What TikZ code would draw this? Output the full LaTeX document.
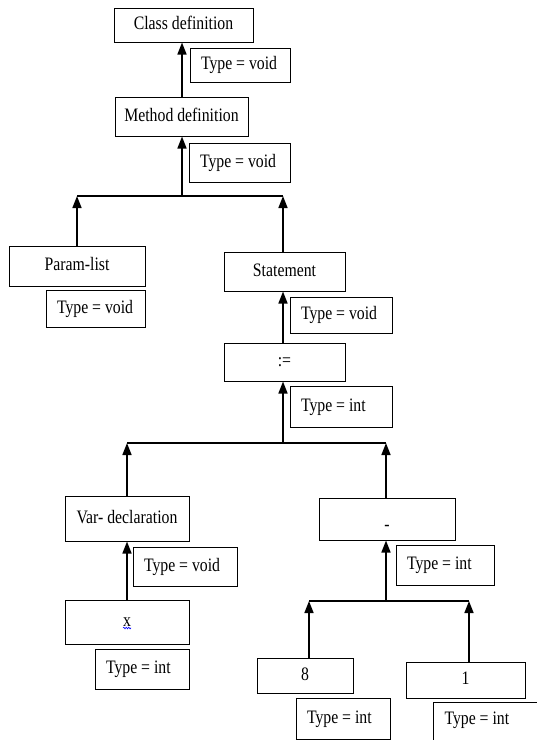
\documentclass[tikz,border=0pt]{standalone}
\usepackage{fontspec}
\setmainfont{Liberation Serif}[FakeStretch=0.83]
\usetikzlibrary{arrows.meta,decorations.pathmorphing}
\begin{document}
\begin{tikzpicture}[x=1pt,y=-1pt,
  every node/.style={font=\fontsize{19}{22}\selectfont},
  box/.style={draw, line width=1pt, inner sep=0pt, text height=13.5pt, text depth=4pt},
  typebox/.style={box, inner xsep=11pt},
  conn/.style={line width=1.6pt},
  arr/.style={conn, -{Triangle[width=9pt,length=12pt]}}]

% page frame
\fill[white] (0,0) rectangle (537,740);
\useasboundingbox (0,0) rectangle (537,740);
\clip (0,0) rectangle (537,740);

% upper part of the tree
\node[box, minimum width=139pt, minimum height=34pt] (cls) at (183.5,25) {Class definition};
\node[typebox, minimum height=34pt] (t1) at (240,65) {\makebox[78pt][l]{Type = void}};
\node[box, minimum width=133pt, minimum height=39pt] (meth) at (181.5,116.5) {Method definition};
\node[typebox, minimum height=39pt] (t2) at (239.5,162.5) {\makebox[79pt][l]{Type = void}};
\node[box, minimum width=136pt, minimum height=40pt] (param) at (77,266) {Param-list};
\node[typebox, minimum height=37pt] (t3) at (95.5,308.5) {\makebox[77pt][l]{Type = void}};
\node[box, minimum width=121pt, minimum height=39pt] (stmt) at (284.5,271.5) {Statement};
\node[typebox, minimum height=36pt] (t4) at (341,315) {\makebox[80pt][l]{Type = void}};
\node[box, minimum width=121pt, minimum height=38pt] (asg) at (284.5,362) {:=};
\node[typebox, minimum height=41pt] (t5) at (341,406.5) {\makebox[80pt][l]{Type = int}};

% left branch of the assignment
\node[box, minimum width=124pt, minimum height=45pt] (var) at (127,518.5) {Var- declaration};
\node[typebox, minimum height=39pt] (t6) at (185,566.5) {\makebox[82pt][l]{Type = void}};
\node[box, minimum width=124pt, minimum height=44pt] (xv) at (127,622) {x};
\node[typebox, minimum height=40pt] (t7) at (142,669) {\makebox[72pt][l]{Type = int}};

% right branch of the assignment
\node[box, minimum width=136pt, minimum height=42pt] (minus) at (387,519) {\raisebox{-7pt}{-}};
\node[typebox, minimum height=40pt] (t8) at (445,565) {\makebox[76pt][l]{Type = int}};
\node[box, minimum width=96pt, minimum height=35pt] (eight) at (305,675.5) {8};
\node[box, minimum width=119pt, minimum height=36pt] (one) at (465.5,680) {1};
\node[typebox, minimum height=41pt] (t9) at (343,718.5) {\makebox[72pt][l]{Type = int}};
\node[typebox, draw=none, minimum height=34pt, anchor=north west] (t10) at (433,702) {\makebox[80pt][l]{Type = int}};
\draw[line width=1pt] ([yshift=-12pt]t10.south west) -- (t10.north west) -- ([xshift=20pt]t10.north east);

% spell-check mark under x
\draw[blue, line width=0.6pt, decorate, decoration={snake, amplitude=0.8pt, segment length=2.5pt}]
  ([xshift=-4pt,yshift=-6pt]xv.center) -- ([xshift=4pt,yshift=-6pt]xv.center);

% junctions
\coordinate (j1) at (182,196);
\coordinate (j2) at (283,443);
\coordinate (j3) at (386,601);
\coordinate (e8) at ([xshift=4pt]eight.north);
\coordinate (e1) at ([xshift=3.5pt]one.north);

% connectors
\draw[arr] (j1 |- meth.north) -- (j1 |- cls.south);
\draw[arr] (j1) -- (j1 |- meth.south);
\draw[conn] (param.north |- j1) -- (j2 |- j1);
\draw[arr] (param.north) -- (param.north |- j1);
\draw[arr] (j2 |- stmt.north) -- (j2 |- j1);
\draw[arr] (j2 |- asg.north) -- (j2 |- stmt.south);
\draw[arr] (j2) -- (j2 |- asg.south);
\draw[conn] (var.north |- j2) -- (j3 |- j2);
\draw[arr] (var.north) -- (var.north |- j2);
\draw[arr] (j3 |- minus.north) -- (j3 |- j2);
\draw[arr] (xv.north) -- (var.south);
\draw[arr] (j3) -- (j3 |- minus.south);
\draw[conn] (e8 |- j3) -- (e1 |- j3);
\draw[arr] (e8) -- (e8 |- j3);
\draw[arr] (e1) -- (e1 |- j3);
\end{tikzpicture}
\end{document}
